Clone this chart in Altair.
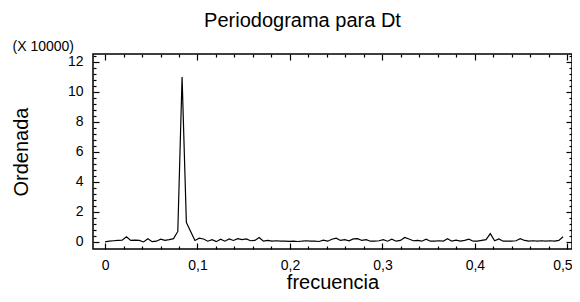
import altair as alt
import pandas as pd

# Periodogram ordinates (in units of 10000), frequencies k/216
n_obs = 216
power = [
    0.00, 0.05, 0.08, 0.10, 0.12, 0.35, 0.10, 0.12, 0.10, 0.00,
    0.22, 0.02, 0.05, 0.18, 0.10, 0.15, 0.22, 0.70, 11.00, 1.30,
    0.70, 0.10, 0.25, 0.20, 0.05, 0.15, 0.02, 0.18, 0.05, 0.20,
    0.10, 0.22, 0.15, 0.20, 0.08, 0.10, 0.30, 0.05, 0.10, 0.05,
    0.08, 0.05, 0.05, 0.04, 0.05, 0.03, 0.05, 0.08, 0.05, 0.05,
    0.03, 0.12, 0.05, 0.18, 0.25, 0.10, 0.15, 0.08, 0.20, 0.22,
    0.10, 0.15, 0.05, 0.05, 0.08, 0.15, 0.05, 0.18, 0.05, 0.10,
    0.30, 0.20, 0.08, 0.10, 0.05, 0.18, 0.05, 0.05, 0.08, 0.05,
    0.22, 0.05, 0.12, 0.05, 0.10, 0.18, 0.05, 0.05, 0.10, 0.15,
    0.55, 0.08, 0.20, 0.05, 0.05, 0.05, 0.08, 0.22, 0.10, 0.05,
    0.08, 0.05, 0.08, 0.06, 0.08, 0.05, 0.10, 0.35,
]
freq = [k / n_obs for k in range(len(power))]

x_major = [0, 0.1, 0.2, 0.3, 0.4, 0.5]
x_minor = [0.02, 0.04, 0.06, 0.08, 0.12, 0.14, 0.16, 0.18, 0.22, 0.24, 0.26, 0.28,
           0.32, 0.34, 0.36, 0.38, 0.42, 0.44, 0.46, 0.48]
y_major = [0, 2, 4, 6, 8, 10, 12]
y_minor = [0.4, 0.8, 1.2, 1.6, 2.4, 2.8, 3.2, 3.6, 4.4, 4.8, 5.2, 5.6, 6.4, 6.8, 7.2, 7.6,
           8.4, 8.8, 9.2, 9.6, 10.4, 10.8, 11.2, 11.6, 12.4]

df = pd.DataFrame({"f": freq, "p": power})

FONT = "Liberation Sans"
MAJ = 6
MIN = 3

xs = alt.Scale(domain=[-0.013, 0.505], nice=False, zero=False)
ys = alt.Scale(domain=[-0.47, 12.53], nice=False, zero=False)


def tick_axis(orient, values, size, **kw):
    return alt.Axis(orient=orient, values=values, tickSize=size, offset=-size,
                    domain=False, grid=False, ticks=True, tickColor="black",
                    tickWidth=1.2, **kw)


x_lbl = "datum.value == 0 ? '0' : replace(format(datum.value, '.1f'), '.', ',')"

base = alt.Chart(df)

main = base.mark_line(color="black", strokeWidth=1.2).encode(
    x=alt.X("f:Q", scale=xs, axis=tick_axis(
        "bottom", x_major, MAJ, labels=True, labelExpr=x_lbl, labelPadding=9,
        labelOffset={"condition": {"test": "datum.value >= 0.45", "value": -5}, "value": 0},
        title="frecuencia", titleFontSize=20, titleY=45, titleBaseline="alphabetic")),
    y=alt.Y("p:Q", scale=ys, axis=tick_axis(
        "left", y_major, MAJ, labels=True, format="d", labelPadding=10,
        title="Ordenada", titleFontSize=20, titleX=-72, titleBaseline="alphabetic",
        titleAngle=270)),
)

minor1 = base.mark_line(opacity=0).encode(
    x=alt.X("f:Q", scale=xs, axis=tick_axis("bottom", x_minor, MIN, labels=False, title=None)),
    y=alt.Y("p:Q", scale=ys, axis=tick_axis(
        "left", y_minor, MIN, labels=False, title="(X 10000)", titleAngle=0,
        titleAlign="left", titleBaseline="alphabetic", titleX=-84, titleY=-4,
        titleFontSize=14)),
)

mirror_major = base.mark_line(opacity=0).encode(
    x=alt.X("f:Q", scale=xs, axis=tick_axis("top", x_major, MAJ, labels=False, title=None)),
    y=alt.Y("p:Q", scale=ys, axis=tick_axis("right", y_major, MAJ, labels=False, title=None)),
)

mirror_minor = base.mark_line(opacity=0).encode(
    x=alt.X("f:Q", scale=xs, axis=tick_axis("top", x_minor, MIN, labels=False, title=None)),
    y=alt.Y("p:Q", scale=ys, axis=tick_axis("right", y_minor, MIN, labels=False, title=None)),
)

chart = alt.layer(main, minor1, mirror_major, mirror_minor).resolve_axis(
    x="independent", y="independent"
).properties(
    width=479,
    height=195,
    padding={"left": 85, "top": 46, "right": 0, "bottom": 45},
    autosize=alt.AutoSizeParams(type="none"),
    title=alt.TitleParams("Periodograma para Dt", fontSize=20, font=FONT,
                          fontWeight="normal", color="black", anchor="middle",
                          frame="group", dx=-30, offset=-8, baseline="alphabetic"),
).configure_view(
    stroke="black", strokeWidth=1.5
).configure_axis(
    labelFont=FONT, labelFontSize=14, labelColor="black",
    titleFont=FONT, titleFontWeight="normal", titleColor="black",
)

chart.save("out.html", embed_options={"renderer": "svg", "actions": False})
